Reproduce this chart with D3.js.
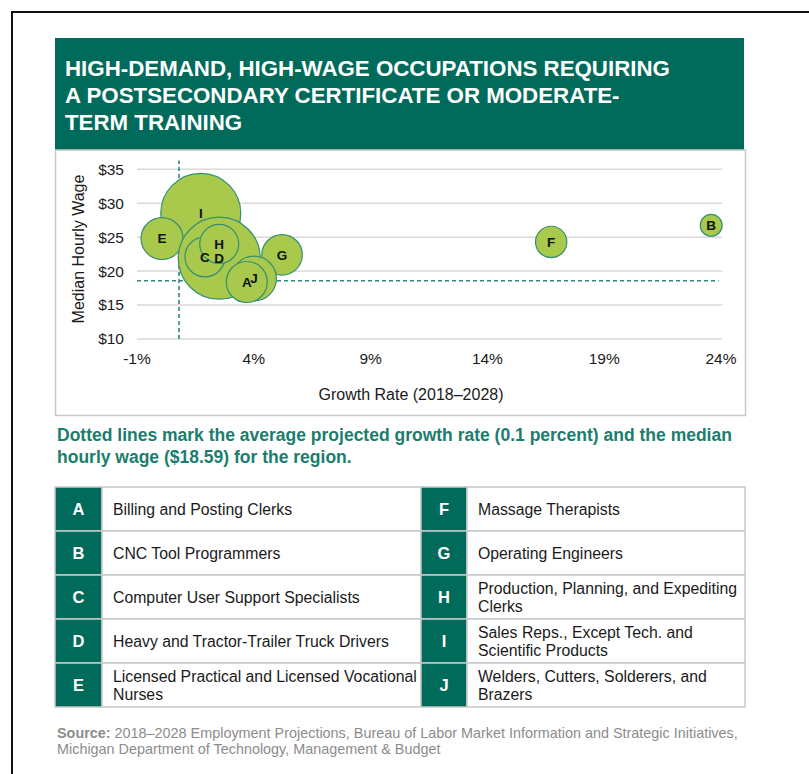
<!DOCTYPE html>
<html>
<head>
<meta charset="utf-8">
<script src="https://cdn.jsdelivr.net/npm/d3@7"></script>
<style>
  html, body { margin: 0; padding: 0; background: #fff; }
  svg { display: block; font-family: "Liberation Sans", Arial, sans-serif; }
</style>
</head>
<body>
<div id="chart"></div>
<script>
// Occupation letters, in drawing order (big bubbles first)
const letters = ["I", "E", "D", "C", "H", "G", "J", "A", "F", "B"];
// Growth rate 2018-2028 (%)
const growth = [1.73, 0.07, 2.52, 1.91, 2.52, 5.21, 4.01, 3.70, 16.73, 23.58];
// Median hourly wage ($)
const wage = [28.5, 24.8, 21.9, 22.1, 24.0, 22.4, 18.9, 18.4, 24.3, 26.75];
// Bubble size (relative openings)
const openings = [1600, 440, 1680, 400, 380, 410, 500, 420, 245, 120];

// Axis ticks
const xTicks = [-1, 4, 9, 14, 19, 24];
const yTicks = [10, 15, 20, 25, 30, 35];

// Regional reference lines
const refGrowth = 0.8;      // where the vertical dotted line sits
const refWage = 18.59;
const refWageSpan = [10, 36.3];
const refGrowthSpan = [-1, 23.9];

// Legend table
const legendLeft = [
  ["A", ["Billing and Posting Clerks"]],
  ["B", ["CNC Tool Programmers"]],
  ["C", ["Computer User Support Specialists"]],
  ["D", ["Heavy and Tractor-Trailer Truck Drivers"]],
  ["E", ["Licensed Practical and Licensed Vocational", "Nurses"]]
];
const legendRight = [
  ["F", ["Massage Therapists"]],
  ["G", ["Operating Engineers"]],
  ["H", ["Production, Planning, and Expediting", "Clerks"]],
  ["I", ["Sales Reps., Except Tech. and", "Scientific Products"]],
  ["J", ["Welders, Cutters, Solderers, and", "Brazers"]]
];

const titleLines = [
  "HIGH-DEMAND, HIGH-WAGE OCCUPATIONS REQUIRING",
  "A POSTSECONDARY CERTIFICATE OR MODERATE-",
  "TERM TRAINING"
];
const captionLines = [
  "Dotted lines mark the average projected growth rate (0.1 percent) and the median",
  "hourly wage ($18.59) for the region."
];

const GREEN = "#006b5a";
const width = 809, height = 774;

const svg = d3.select("#chart").append("svg")
  .attr("width", width)
  .attr("height", height);

// outer page frame (left and top edges only visible)
svg.append("line").attr("x1", 12).attr("y1", 11).attr("x2", 12).attr("y2", height)
  .attr("stroke", "#111").attr("stroke-width", 2);
svg.append("line").attr("x1", 11).attr("y1", 12).attr("x2", width).attr("y2", 12)
  .attr("stroke", "#111").attr("stroke-width", 2);

// header band
svg.append("rect").attr("x", 55).attr("y", 38).attr("width", 689).attr("height", 112)
  .attr("fill", GREEN);
svg.append("g").selectAll("text").data(titleLines).enter().append("text")
  .attr("x", 65)
  .attr("y", (d, i) => 76 + i * 27)
  .attr("fill", "#fff")
  .style("font-size", "22.3px")
  .style("font-weight", "bold")
  .text(d => d);

// chart panel
svg.append("rect").attr("x", 55.5).attr("y", 150).attr("width", 690).attr("height", 265.5)
  .attr("fill", "#fff").attr("stroke", "#c8c8c8").attr("stroke-width", 1.5);

const x = d3.scaleLinear().domain([-1, 24]).range([137, 721]);
const y = d3.scaleLinear().domain([10, 35]).range([339, 169.3]);
const r = d3.scaleSqrt().domain([0, d3.max(openings)]).range([0, 41]);

// gridlines
svg.append("g").selectAll("line").data(yTicks).enter().append("line")
  .attr("x1", x(-1)).attr("x2", x(24) + 1)
  .attr("y1", d => y(d)).attr("y2", d => y(d))
  .attr("stroke", "#d9d9d9").attr("stroke-width", 1.5);

// y tick labels
svg.append("g").selectAll("text").data(yTicks).enter().append("text")
  .attr("x", 124)
  .attr("y", d => y(d))
  .attr("dy", "0.35em")
  .attr("text-anchor", "end")
  .attr("fill", "#1a1a1a")
  .style("font-size", "15.5px")
  .text(d => "$" + d);

// x tick labels
svg.append("g").selectAll("text").data(xTicks).enter().append("text")
  .attr("x", d => x(d))
  .attr("y", 364)
  .attr("text-anchor", "middle")
  .attr("fill", "#1a1a1a")
  .style("font-size", "15.5px")
  .text(d => d + "%");

// axis titles
svg.append("text")
  .attr("transform", "translate(84,249) rotate(-90)")
  .attr("text-anchor", "middle")
  .attr("fill", "#1a1a1a")
  .style("font-size", "16px")
  .text("Median Hourly Wage");
svg.append("text")
  .attr("x", 411).attr("y", 400)
  .attr("text-anchor", "middle")
  .attr("fill", "#1a1a1a")
  .style("font-size", "16px")
  .text("Growth Rate (2018\u20132028)");

// dotted reference lines
svg.append("line")
  .attr("x1", x(refGrowth)).attr("x2", x(refGrowth))
  .attr("y1", y(refWageSpan[0])).attr("y2", y(refWageSpan[1]))
  .attr("stroke", "#2a8a7c").attr("stroke-width", 1.6).attr("stroke-dasharray", "4,3");
svg.append("line")
  .attr("x1", x(refGrowthSpan[0])).attr("x2", x(refGrowthSpan[1]))
  .attr("y1", y(refWage)).attr("y2", y(refWage))
  .attr("stroke", "#2a8a7c").attr("stroke-width", 1.6).attr("stroke-dasharray", "4,3");

// bubbles
const points = letters.map((l, i) => ({ l, g: growth[i], w: wage[i], n: openings[i] }));
svg.append("g").selectAll("circle").data(points).enter().append("circle")
  .attr("cx", d => x(d.g))
  .attr("cy", d => y(d.w))
  .attr("r", d => r(d.n))
  .attr("fill", "#a8c94b")
  .attr("stroke", "#358f72")
  .attr("stroke-width", 1.2);
svg.append("g").selectAll("text").data(points).enter().append("text")
  .attr("x", d => x(d.g))
  .attr("y", d => y(d.w))
  .attr("dy", "0.36em")
  .attr("text-anchor", "middle")
  .attr("fill", "#111")
  .style("font-size", "13.5px")
  .style("font-weight", "bold")
  .text(d => d.l);

// caption
svg.append("g").selectAll("text").data(captionLines).enter().append("text")
  .attr("x", 57)
  .attr("y", (d, i) => 441 + i * 22)
  .attr("fill", "#1b7d6d")
  .style("font-size", "17.5px")
  .style("font-weight", "bold")
  .text(d => d);

// legend table
const rowH = 44, tableTop = 487;
function drawColumn(rows, x0, x1, x2) {
  const g = svg.append("g");
  rows.forEach((row, i) => {
    const top = tableTop + i * rowH;
    g.append("rect").attr("x", x0).attr("y", top).attr("width", x1 - x0).attr("height", rowH)
      .attr("fill", GREEN).attr("stroke", "#c8c8c8").attr("stroke-width", 1.5);
    g.append("rect").attr("x", x1).attr("y", top).attr("width", x2 - x1).attr("height", rowH)
      .attr("fill", "#fff").attr("stroke", "#c8c8c8").attr("stroke-width", 1.5);
    g.append("text")
      .attr("x", (x0 + x1) / 2).attr("y", top + rowH / 2).attr("dy", "0.36em")
      .attr("text-anchor", "middle").attr("fill", "#fff")
      .style("font-size", "16.5px").style("font-weight", "bold")
      .text(row[0]);
    const lines = row[1];
    lines.forEach((t, j) => {
      g.append("text")
        .attr("x", x1 + 11)
        .attr("y", top + rowH / 2 + (j - (lines.length - 1) / 2) * 18)
        .attr("dy", "0.36em")
        .attr("fill", "#1a1a1a")
        .style("font-size", "15.8px")
        .text(t);
    });
  });
}
drawColumn(legendLeft, 55, 102, 421);
drawColumn(legendRight, 421, 467, 745);

// source note
const src = svg.append("g").attr("fill", "#8c8c8c").style("font-size", "14.4px");
const s1 = src.append("text").attr("x", 57).attr("y", 738);
s1.append("tspan").style("font-weight", "bold").text("Source:");
s1.append("tspan").text(" 2018\u20132028 Employment Projections, Bureau of Labor Market Information and Strategic Initiatives,");
src.append("text").attr("x", 57).attr("y", 754)
  .text("Michigan Department of Technology, Management & Budget");
</script>
</body>
</html>
